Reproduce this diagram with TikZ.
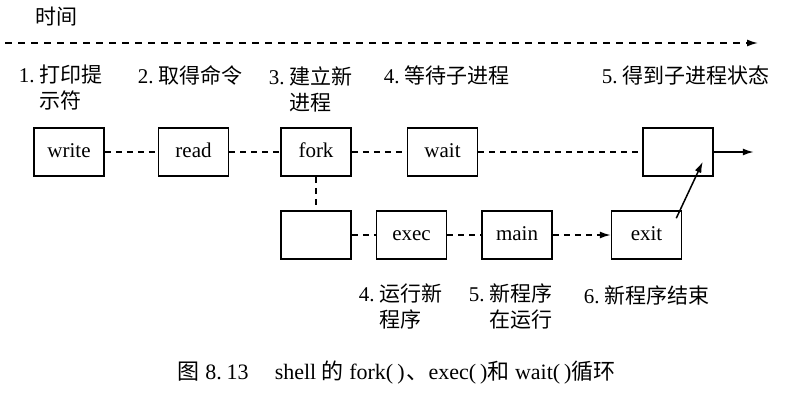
\documentclass[tikz,border=0pt]{standalone}
\usepackage{fontspec}
\setmainfont{Liberation Serif}
\newfontfamily\cjk{Noto Sans CJK SC}
\usetikzlibrary{positioning,arrows.meta}

\begin{document}
\begin{tikzpicture}[x=1pt, y=-1pt, line width=1.5pt,
  >={Latex[length=11pt,width=7pt]},
  box/.style={draw, minimum width=70pt, minimum height=48pt, inner sep=0pt,
    text height=14pt, text depth=4pt, font=\fontsize{21}{24}\selectfont},
  lab/.style={anchor=west, inner sep=0pt, align=left, font=\fontsize{21}{26}\selectfont},
  link/.style={dash pattern=on 6pt off 5pt}]
\useasboundingbox (0,0) rectangle (786,412);
\node[lab] (time) at (35,17) {\cjk 时间};
\coordinate (t0) at (5,43);
\coordinate (t1) at (758,43);
%
\node[box] (write) at (69,152) {write};
\node[box,right=53pt of write] (read) {read};
\node[box,right=51pt of read]  (fork) {fork};
\node[box,right=55pt of fork]  (wait) {wait};
\node[box,right=164pt of wait] (stat) {};
\coordinate[right=40pt of stat] (out);
%
\node[box,below=33.5pt of fork] (child) {};
\node[box,right=24pt of child]  (exec) {exec};
\node[box,right=34pt of exec]   (main) {main};
\node[box,right=58pt of main]   (exit) {exit};
%
\node[lab] (l1) at (18,88)  {1.~{\cjk 打印提}\\\phantom{1.~}{\cjk 示符}};
\node[lab] (l2) at (137,75) {2.~{\cjk 取得命令}};
\node[lab] (l3) at (268,89) {3.~{\cjk 建立新}\\\phantom{3.~}{\cjk 进程}};
\node[lab] (l4) at (383,75) {4.~{\cjk 等待子进程}};
\node[lab] (l5) at (601,75) {5.~{\cjk 得到子进程状态}};
\node[lab] (l6) at (358,307) {4.~{\cjk 运行新}\\\phantom{4.~}{\cjk 程序}};
\node[lab] (l7) at (468,307) {5.~{\cjk 新程序}\\\phantom{5.~}{\cjk 在运行}};
\node[lab] (l8) at (583,295) {6.~{\cjk 新程序结束}};
%
\node[lab,font=\fontsize{22}{26}\selectfont] (cap) at (177,373)
  {{\cjk 图} 8.\hspace{5pt}13\hspace{26pt}shell {\cjk 的} fork(\kern4pt)\kern2pt{\cjk 、}exec(\kern4pt){\cjk 和} wait(\kern4pt){\cjk 循环}};
%
\path[link]
	(t0) edge[dash pattern=on 7pt off 6pt,->] (t1)
	(write) edge (read)
	(read) edge (fork)
	(fork) edge (wait)
	(wait) edge (stat)
%
	(fork) edge (child)
	(child) edge (exec)
	(exec) edge (main)
	(main) edge[->] (exit)
; %-draw-%
\path[->]
	(stat) edge (out)
	([shift={(-6,8)}]exit.north east) edge ([shift={(-11,-15)}]stat.south east)
;
\end{tikzpicture}
\end{document}
